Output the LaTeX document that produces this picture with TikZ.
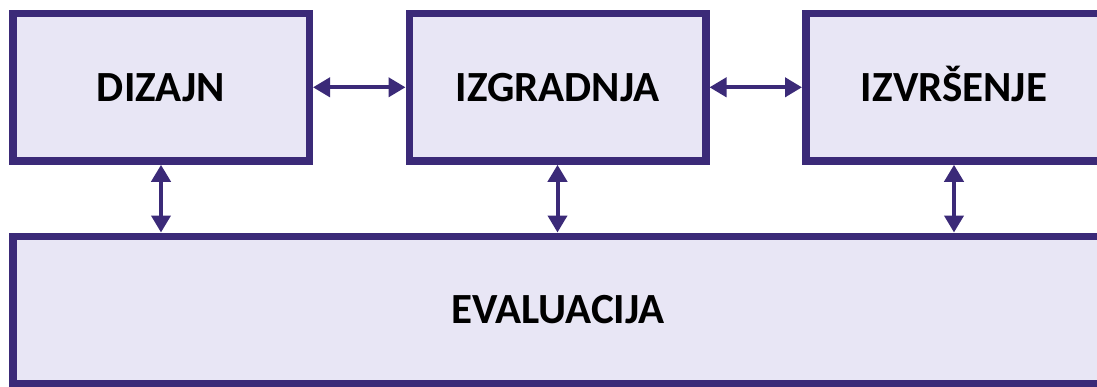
\documentclass[tikz,border=0pt]{standalone}
\usepackage{fontspec}
\setmainfont{Carlito}
\usetikzlibrary{arrows.meta}
\definecolor{edge}{RGB}{59,42,120}
\definecolor{boxfill}{RGB}{232,230,245}
\begin{document}
\begin{tikzpicture}[x=1pt,y=1pt,
  stagebox/.style={draw=edge,fill=boxfill,line width=7.5pt,
    minimum width=296.5pt,minimum height=147.5pt,inner sep=0pt,
    text height=27.5pt,text depth=0pt,
    font=\fontsize{43}{50}\selectfont\bfseries},
  link/.style={draw=edge,line width=4pt,
    {Triangle[length=17pt,width=19pt]}-{Triangle[length=17pt,width=19pt]}}]
\useasboundingbox (0,0) rectangle (1097,386);
\clip (0,0) rectangle (1097,386);
\fill[white] (0,0) rectangle (1097,386);
\node[stagebox] (dizajn) at (161,298.7) {DIZAJN};
\node[stagebox] (izgradnja) at (557.5,298.7) {IZGRADNJA};
\node[stagebox] (izvrsenje) at (954,298.7) {IZVRŠENJE};
\node[stagebox,minimum width=1090pt] (evaluacija) at (558,76) {EVALUACIJA};
\draw[link] (dizajn.east) -- (izgradnja.west);
\draw[link] (izgradnja.east) -- (izvrsenje.west);
\draw[link] (dizajn.south) -- (dizajn.south |- evaluacija.north);
\draw[link] (izgradnja.south) -- (izgradnja.south |- evaluacija.north);
\draw[link] (izvrsenje.south) -- (izvrsenje.south |- evaluacija.north);
\end{tikzpicture}
\end{document}
